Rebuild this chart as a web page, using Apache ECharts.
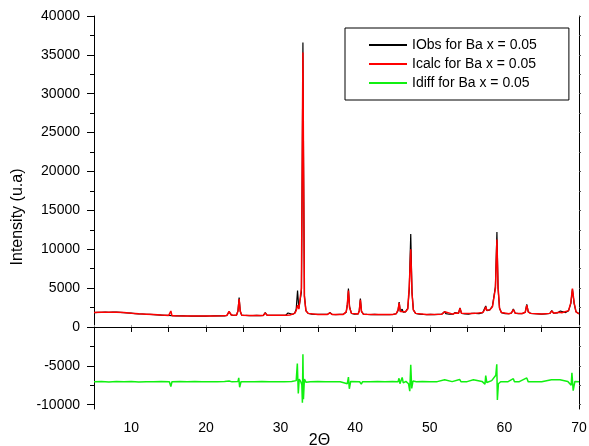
<!DOCTYPE html>
<html>
<head>
<meta charset="utf-8">
<title>XRD refinement Ba x = 0.05</title>
<script src="https://cdn.jsdelivr.net/npm/echarts@6/dist/echarts.min.js"></script>
<style>
  html, body { margin: 0; padding: 0; background: #fff; }
  #container { width: 589px; height: 446px; }
</style>
</head>
<body>
<div id="container"></div>
<script>
// 2-theta / intensity pairs
const obsData = [
  [5,1840],[5.5,1870],[6,1880],[6.5,1900],[7,1890],[7.5,1910],[8,1900],[8.5,1880],[9,1850],[9.5,1800],
  [10,1770],[10.5,1720],[11,1690],[11.5,1670],[12,1640],[12.5,1620],[13,1600],[13.5,1560],[14,1530],[14.5,1500],
  [15,1480],[15.5,1460],[16,1440],[16.5,1430],[17,1420],[17.5,1410],[18,1400],[18.5,1410],[19,1400],[19.5,1390],
  [20,1400],[20.5,1410],[21,1420],[21.5,1420],[22,1430],[22.5,1440],[22.8,1480],[23.1,1950],[23.4,1560],[23.7,1480],
  [24.1,1520],[24.3,2100],[24.45,3800],[24.6,2000],[24.8,1520],[25.3,1480],[25.8,1470],[26.3,1460],[26.8,1480],[27.3,1470],
  [27.7,1500],[27.95,1850],[28.2,1510],[28.7,1480],[29.2,1490],[29.7,1500],[30.2,1490],[30.7,1520],[31.0,1800],[31.25,1560],
  [31.6,1620],[31.9,1800],[32.1,2300],[32.28,4700],[32.45,2400],[32.65,2600],[32.8,4500],[32.92,22000],[33.0,36600],[33.08,22000],
  [33.2,4000],[33.4,2100],[33.7,1750],[34.2,1650],[34.7,1630],[35.2,1620],[35.7,1610],[36.3,1620],[36.6,1850],[36.9,1630],
  [37.4,1600],[37.9,1610],[38.4,1620],[38.8,1900],[38.95,2800],[39.1,4950],[39.25,2600],[39.5,1750],[39.9,1650],[40.4,1680],
  [40.55,2100],[40.7,3650],[40.85,2000],[41.1,1660],[41.6,1620],[42.1,1600],[42.6,1610],[43.1,1590],[43.6,1580],[44.1,1590],
  [44.6,1600],[45.1,1620],[45.5,1700],[45.75,2100],[45.9,3200],[46.05,2000],[46.2,2000],[46.3,2300],[46.45,1900],[46.75,1950],
  [47.05,2400],[47.25,4800],[47.45,11950],[47.62,4500],[47.8,2200],[48.1,1750],[48.6,1650],[49.1,1620],[49.6,1600],[50.1,1610],
  [50.6,1600],[51.1,1620],[51.6,1640],[51.85,1780],[52.0,2000],[52.15,1720],[52.6,1640],[53.1,1650],[53.4,1850],[53.55,1700],
  [53.85,1750],[54.05,2450],[54.25,1750],[54.7,1680],[55.2,1660],[55.6,1750],[55.85,2000],[56.1,1760],[56.6,1720],[57.1,1850],
  [57.35,2100],[57.5,2700],[57.65,2100],[57.85,2250],[58.05,2200],[58.4,2700],[58.8,5200],[59.0,12200],[59.15,5000],[59.35,2400],
  [59.6,1850],[60.1,1720],[60.6,1700],[60.95,1800],[61.2,2300],[61.45,1780],[61.9,1720],[62.4,1730],[62.8,1900],[63.0,2900],
  [63.2,1950],[63.5,1750],[64.0,1700],[64.5,1680],[65.0,1660],[65.5,1680],[66.1,1760],[66.35,2100],[66.6,1780],[67.1,1800],
  [67.35,1900],[67.5,2050],[67.7,1820],[68.2,1850],[68.6,2100],[68.9,3000],[69.12,4850],[69.35,3000],[69.6,1950],[69.85,1750],
  [70,1700]
];

const calcData = [
  [5,1850],[6,1890],[7,1900],[8,1900],[9,1850],[10,1760],[11,1690],[12,1640],[13,1590],[14,1530],
  [15,1480],[15.15,1470],[15.3,2050],[15.45,1460],[16,1440],[17,1420],[18,1405],[19,1400],[20,1400],[21,1415],
  [22,1430],[22.8,1470],[23.1,2000],[23.4,1540],[24.1,1510],[24.3,2050],[24.45,3600],[24.6,2050],[24.8,1510],[26,1470],
  [27.7,1490],[27.95,1800],[28.2,1500],[30,1500],[30.8,1520],[31.0,1750],[31.25,1550],[31.9,1750],[32.1,2100],[32.28,2800],
  [32.45,2300],[32.65,2500],[32.8,5000],[32.92,24000],[33.0,35300],[33.08,21000],[33.2,3900],[33.4,2100],[33.7,1750],[35,1620],
  [36.3,1615],[36.6,1800],[36.9,1620],[38.4,1620],[38.8,1950],[38.95,2900],[39.1,4700],[39.25,2500],[39.5,1750],[40.4,1670],
  [40.55,2050],[40.7,3500],[40.85,2000],[41.1,1650],[43,1590],[45.1,1620],[45.5,1700],[45.75,2200],[45.9,3100],[46.05,2000],
  [46.3,1950],[46.75,1950],[47.05,2300],[47.25,5200],[47.45,10000],[47.62,4300],[47.8,2200],[48.1,1750],[49.6,1600],[51.6,1640],
  [51.85,1760],[52.0,1950],[52.15,1720],[53.1,1650],[53.4,1800],[53.55,1700],[53.85,1760],[54.05,2400],[54.25,1760],[55.6,1740],
  [55.85,1950],[56.1,1750],[57.1,1850],[57.35,2200],[57.5,2600],[57.65,2150],[57.85,2200],[58.05,2200],[58.4,2600],[58.8,5000],
  [59.0,11250],[59.15,5200],[59.35,2400],[59.6,1850],[60.6,1700],[60.95,1800],[61.2,2250],[61.45,1780],[62.4,1730],[62.8,1900],
  [63.0,2800],[63.2,1950],[63.5,1750],[65.0,1660],[66.1,1750],[66.35,2050],[66.6,1780],[67.35,1900],[67.5,2000],[67.7,1820],
  [68.6,2100],[68.9,3100],[69.12,4950],[69.35,3100],[69.6,1950],[69.85,1750],[70,1700]
];

const diffData = [
  [5,-7050],[6,-7000],[7,-7080],[8,-7020],[9,-7060],[10,-7000],[11,-7070],[12,-7030],[13,-7050],[14,-7020],
  [15.1,-7040],[15.3,-7650],[15.45,-7050],[16.5,-7020],[17.5,-7060],[18.5,-7010],[19.5,-7050],[20.5,-7030],[21.5,-7060],[22.5,-7020],
  [23.1,-6950],[23.5,-7060],[24.3,-7000],[24.4,-6550],[24.52,-7750],[24.7,-7040],[25.5,-7030],[26.5,-7060],[27.5,-7020],[28.5,-7050],
  [29.5,-7030],[30.5,-7060],[31.5,-7000],[32.1,-6900],[32.25,-4700],[32.38,-8550],[32.5,-6700],[32.7,-7000],[32.85,-7400],[32.93,-9750],
  [33.0,-3500],[33.07,-9300],[33.2,-6700],[33.4,-7100],[34,-7050],[35,-7020],[36,-7060],[37,-7030],[38,-7050],[38.95,-7300],
  [39.1,-6450],[39.22,-7950],[39.4,-7000],[40.6,-7050],[40.7,-6800],[40.82,-7350],[41,-7030],[42,-7060],[43,-7020],[44,-7050],
  [45,-7020],[45.75,-7050],[45.88,-6600],[46.0,-7300],[46.3,-6500],[46.45,-7200],[46.8,-7000],[47.15,-7300],[47.32,-8250],[47.45,-4850],
  [47.58,-7900],[47.75,-6950],[48.2,-7050],[49,-7020],[50,-7050],[51,-7030],[52.0,-6800],[52.15,-7050],[53,-7030],[54.0,-6750],
  [54.2,-7060],[55,-7030],[55.85,-6800],[56.05,-7050],[57,-7000],[57.4,-7350],[57.5,-6250],[57.65,-7150],[58.3,-6900],[58.85,-6200],
  [58.98,-4800],[59.06,-9400],[59.2,-7300],[59.5,-7050],[60.5,-7030],[61.2,-6650],[61.35,-7050],[62,-7030],[63.0,-6550],[63.2,-7060],
  [64,-7030],[65,-7050],[66.3,-6800],[66.5,-7050],[67.45,-6800],[67.65,-7050],[68.5,-7000],[68.95,-7500],[69.05,-5900],[69.22,-8200],
  [69.45,-7000],[70,-7050]
];

const seriesNames = ['IObs for Ba x = 0.05', 'Icalc for Ba x = 0.05', 'Idiff for Ba x = 0.05'];
const yMajorTicks = [-10000, -5000, 0, 5000, 10000, 15000, 20000, 25000, 30000, 35000, 40000];
const yMinorTicks = [-7500, -2500, 2500, 7500, 12500, 17500, 22500, 27500, 32500, 37500];
const yRightTicks = [-10000, -7500, -5000, -2500, 0, 2500, 5000, 7500, 10000, 12500, 15000, 17500,
  20000, 22500, 25000, 27500, 30000, 32500, 35000, 37500, 40000];

const FONT = '"Liberation Sans", Arial, Helvetica, sans-serif';
const Y_MIN = -10550, Y_MAX = 40000;

const chart = echarts.init(document.getElementById('container'), null, { renderer: 'canvas' });

const axisLine = { show: true, lineStyle: { color: '#000', width: 1 } };

const option = {
  animation: false,
  backgroundColor: '#fff',
  grid: { left: 94, right: 10, top: 16, bottom: 37, containLabel: false, outerBoundsMode: 'none' },
  legend: {
    orient: 'vertical',
    left: 345,
    top: 28,
    padding: [10, 32, 10, 23],
    itemWidth: 38,
    itemHeight: 14,
    itemGap: 5,
    borderColor: '#000',
    borderWidth: 1,
    // hide the symbol dot, keep only the line sample
    itemStyle: { color: 'rgba(0,0,0,0)', borderWidth: 0 },
    textStyle: { fontSize: 14, color: '#000', fontFamily: FONT },
    data: seriesNames
  },
  xAxis: [
    {
      type: 'value', position: 'bottom', min: 5, max: 70, interval: 5,
      axisLine: axisLine,
      axisTick: { length: 5, lineStyle: { color: '#000' } },
      axisLabel: {
        fontSize: 14, color: '#000', fontFamily: FONT, margin: 12,
        formatter: v => (v % 10 === 0 ? String(v) : '')
      },
      splitLine: { show: false },
      name: '2Θ',
      nameLocation: 'middle',
      nameGap: 24,
      nameMoveOverlap: false,
      nameTextStyle: { fontSize: 16, color: '#000', fontFamily: FONT, padding: [0, 34, 0, 0] }
    },
    {
      type: 'value', position: 'top', min: 5, max: 70, interval: 5,
      axisLine: axisLine,
      axisTick: { length: 2, lineStyle: { color: '#999' } },
      axisLabel: { show: false },
      splitLine: { show: false }
    }
  ],
  yAxis: [
    {
      type: 'value', position: 'left', min: Y_MIN, max: Y_MAX,
      axisLine: axisLine,
      axisTick: { show: true, length: 7, customValues: yMajorTicks, lineStyle: { color: '#000' } },
      axisLabel: {
        fontSize: 14, color: '#000', fontFamily: FONT, margin: 14, customValues: yMajorTicks,
        formatter: v => String(v)
      },
      splitLine: { show: false },
      name: 'Intensity (u.a)',
      nameLocation: 'middle',
      nameRotate: 90,
      nameGap: 68,
      nameMoveOverlap: false,
      nameTextStyle: { fontSize: 16, color: '#000', fontFamily: FONT, padding: [0, 9, 0, 0] }
    },
    {
      type: 'value', position: 'left', min: Y_MIN, max: Y_MAX,
      axisLine: { show: false },
      axisTick: { show: true, length: 4, customValues: yMinorTicks, lineStyle: { color: '#000' } },
      axisLabel: { show: false },
      splitLine: { show: false }
    },
    {
      type: 'value', position: 'right', min: Y_MIN, max: Y_MAX,
      axisLine: axisLine,
      axisTick: { show: true, length: 2, customValues: yRightTicks, lineStyle: { color: '#555' } },
      axisLabel: { show: false },
      splitLine: { show: false }
    }
  ],
  series: [
    {
      name: seriesNames[0], type: 'line', xAxisIndex: 0, yAxisIndex: 0,
      data: obsData, symbol: 'none', lineStyle: { color: '#000', width: 1.2 }, itemStyle: { color: '#000' }, z: 2
    },
    {
      name: seriesNames[1], type: 'line', xAxisIndex: 0, yAxisIndex: 0,
      data: calcData, symbol: 'none', lineStyle: { color: '#ff0000', width: 1.5 }, itemStyle: { color: '#ff0000' }, z: 3
    },
    {
      name: seriesNames[2], type: 'line', xAxisIndex: 0, yAxisIndex: 0,
      data: diffData, symbol: 'none', lineStyle: { color: '#10f010', width: 1.5 }, itemStyle: { color: '#10f010' }, z: 3
    }
  ]
};

chart.setOption(option);
window.addEventListener('resize', () => chart.resize());
</script>
</body>
</html>
